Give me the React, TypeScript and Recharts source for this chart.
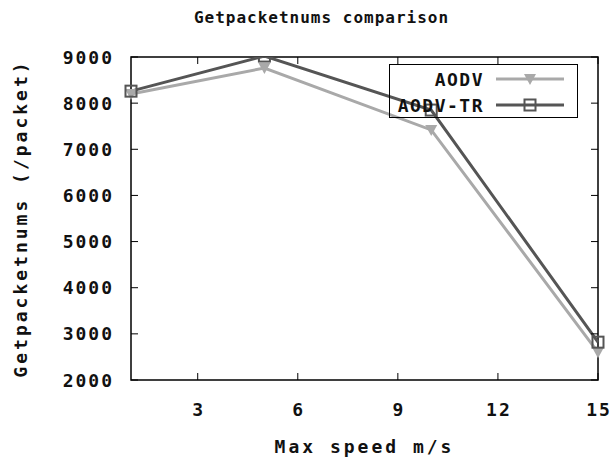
import * as React from "react"
import {
  Line,
  LineChart,
  ReferenceArea,
  XAxis,
  YAxis,
} from "recharts"

const speeds = [1, 5, 10, 15]
const aodv = [8200, 8760, 7420, 2600]
const aodvTr = [8260, 9020, 7850, 2820]
const xTicks = [3, 6, 9, 12, 15]
const yTicks = [2000, 3000, 4000, 5000, 6000, 7000, 8000, 9000]

const data = speeds.map((s, i) => ({ speed: s, aodv: aodv[i], aodvTr: aodvTr[i] }))

const W = 613
const H = 458
const margin = { top: 57, right: 15, bottom: 0, left: 0 }
const xAxisHeight = 78
const yAxisWidth = 131
const plotRight = W - margin.right
const plotTop = margin.top
const plotBottom = H - xAxisHeight

const font = "'DejaVu Sans Mono', monospace"
const light = "#a9a9a9"
const dark = "#555555"

function XTick({ x, y, payload }: any) {
  return (
    <g>
      <line x1={x} x2={x} y1={plotBottom} y2={plotBottom - 7} stroke="#000" />
      <line x1={x} x2={x} y1={plotTop} y2={plotTop + 7} stroke="#000" />
      <text x={x + 1} y={y + 36} textAnchor="middle" fontFamily={font} fontWeight="bold" fontSize={18} letterSpacing={2} fill="#111">
        {payload.value}
      </text>
    </g>
  )
}

function YTick({ x, y, payload }: any) {
  const ax = yAxisWidth
  return (
    <g>
      <line x1={ax} x2={ax + 7} y1={y} y2={y} stroke="#000" />
      <line x1={plotRight} x2={plotRight - 7} y1={y} y2={y} stroke="#000" />
      <text x={x} y={y + 6.5} textAnchor="end" fontFamily={font} fontWeight="bold" fontSize={18} letterSpacing={2} fill="#111">
        {payload.value}
      </text>
    </g>
  )
}

function TriDot({ cx, cy }: any) {
  return <path d={`M${cx - 6},${cy - 5} L${cx + 6},${cy - 5} L${cx},${cy + 6} Z`} fill={light} />
}

function SquareDot({ cx, cy }: any) {
  return <rect x={cx - 5.5} y={cy - 5.5} width={11} height={11} fill="none" stroke={dark} strokeWidth={2} />
}

function LegendBox() {
  const row = (label: string, color: string, marker: React.ReactNode) => (
    <div style={{ display: "flex", alignItems: "center", height: 26 }}>
      <span style={{ width: 94, textAlign: "right", fontFamily: font, fontWeight: "bold", fontSize: 18, letterSpacing: 1.5, color: "#111" }}>
        {label}
      </span>
      <svg width={80} height={26} style={{ marginLeft: 12 }}>
        <line x1={0} x2={68} y1={13} y2={13} stroke={color} strokeWidth={3} />
        {marker}
      </svg>
    </div>
  )
  return (
    <div
      style={{
        position: "absolute",
        left: 389,
        top: 64,
        width: 187,
        height: 51,
        border: "1.5px solid #000",
        paddingTop: 1,
        pointerEvents: "none",
      }}
    >
      {row("AODV", light, <path d="M28,8 L40,8 L34,19 Z" fill={light} />)}
      {row("AODV-TR", dark, <rect x={28.5} y={7.5} width={11} height={11} fill="none" stroke={dark} strokeWidth={2} />)}
    </div>
  )
}

export default function App() {
  return (
    <div style={{ position: "relative", width: W, height: H, background: "#fff" }}>
      <style>{"body{margin:0}"}</style>
      <div
        style={{
          position: "absolute",
          top: 8,
          left: 0,
          width: W,
          textAlign: "center",
          paddingLeft: 30,
          boxSizing: "border-box",
          fontFamily: font,
          fontWeight: "bold",
          fontSize: 16,
          letterSpacing: 1,
          color: "#111",
        }}
      >
        Getpacketnums comparison
      </div>
      <LineChart width={W} height={H} data={data} margin={margin}>
        <XAxis
          type="number"
          dataKey="speed"
          domain={[1, 15]}
          ticks={xTicks}
          tickSize={0}
          tickMargin={0}
          tick={<XTick />}
          axisLine={false}
          height={xAxisHeight}
          label={{
            value: "Max speed m/s",
            position: "insideBottom",
            offset: 5,
            fontFamily: font,
            fontWeight: "bold",
            fontSize: 18,
            letterSpacing: 3,
            fill: "#111",
          }}
        />
        <YAxis
          type="number"
          domain={[2000, 9000]}
          ticks={yTicks}
          allowDataOverflow
          width={yAxisWidth}
          tickSize={0}
          tickMargin={17}
          tick={<YTick />}
          axisLine={false}
          label={{
            value: "Getpacketnums (/packet)",
            angle: -90,
            position: "insideLeft",
            offset: 21,
            fontFamily: font,
            fontWeight: "bold",
            fontSize: 18,
            letterSpacing: 3,
            fill: "#111",
            style: { textAnchor: "middle" },
          }}
        />
        <ReferenceArea x1={1} x2={15} y1={2000} y2={9000} fill="none" stroke="#000" strokeWidth={1.5} ifOverflow="visible" />
        <Line
          dataKey="aodv"
          name="AODV"
          stroke={light}
          strokeWidth={3}
          dot={<TriDot />}
          isAnimationActive={false}
        />
        <Line
          dataKey="aodvTr"
          name="AODV-TR"
          stroke={dark}
          strokeWidth={3}
          dot={<SquareDot />}
          isAnimationActive={false}
        />
      </LineChart>
      <LegendBox />
    </div>
  )
}
